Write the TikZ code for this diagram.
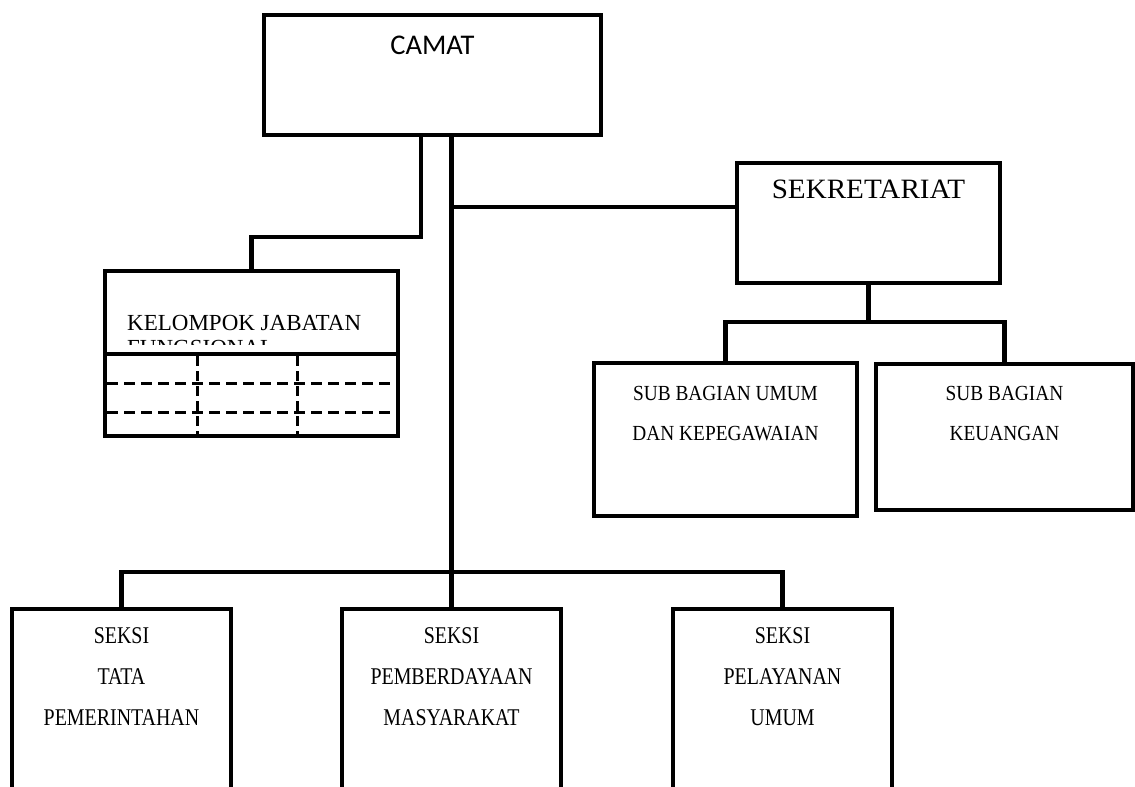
\documentclass[tikz,border=0pt]{standalone}
\usepackage{fontspec}
\setmainfont{Liberation Serif}
\newfontfamily\camatfont{Carlito}
\newfontfamily\sekrefont[FakeStretch=1.04]{Liberation Serif}
\newfontfamily\subfont[FakeStretch=0.9]{Liberation Serif}
\newfontfamily\seksifont[FakeStretch=0.83]{Liberation Serif}
\usetikzlibrary{positioning}

\begin{document}
\begin{tikzpicture}[x=1pt, y=-1pt,
  obox/.style={draw, line width=4.5pt, inner sep=0pt},
  otxt/.style={inner sep=0pt, align=center},
  link/.style={line width=4.5pt},
  gridln/.style={line width=3pt, dash pattern=on 11pt off 6pt}
]
  \useasboundingbox (0,0) rectangle (1135,787);
  \clip (0,0) rectangle (1135,787);

  % boxes
  \node[obox, minimum width=337pt, minimum height=120pt] (camat) at (432.5,75) {};
  \node[obox, minimum width=263pt, minimum height=120pt] (sekre) at (868.5,223) {};
  \node[obox, minimum width=293pt, minimum height=165pt] (kelompok) at (251.5,353.5) {};
  \node[obox, minimum width=263pt, minimum height=153pt] (umum) at (725.5,439.5) {};
  \node[obox, minimum width=257pt, minimum height=146pt] (keuangan) at (1004.5,437) {};
  \node[obox, minimum width=219pt, minimum height=200pt] (seksiA) at (121.5,709) {};
  \node[obox, minimum width=219pt, minimum height=200pt] (seksiB) at (451.5,709) {};
  \node[obox, minimum width=219pt, minimum height=200pt] (seksiC) at (782.5,709) {};

  % texts
  \node[otxt, font=\camatfont\fontsize{28.5}{32}\selectfont, below=23pt of camat.north] (camattxt) {CAMAT};
  \node[otxt, font=\sekrefont\fontsize{28}{32}\selectfont, below=19pt of sekre.north] (sekretxt) {SEKRETARIAT};
  \node[otxt, font=\subfont\fontsize{21.5}{40}\selectfont, below=25pt of umum.north] (umumtxt) {SUB BAGIAN UMUM\\DAN KEPEGAWAIAN};
  \node[otxt, font=\subfont\fontsize{21.5}{40}\selectfont, below=24pt of keuangan.north] (keutxt) {SUB BAGIAN\\KEUANGAN};
  \node[otxt, font=\seksifont\fontsize{24}{41}\selectfont, below=21pt of seksiA.north] (seksiAtxt) {SEKSI\\TATA\\PEMERINTAHAN};
  \node[otxt, font=\seksifont\fontsize{24}{41}\selectfont, below=21pt of seksiB.north] (seksiBtxt) {SEKSI\\PEMBERDAYAAN\\MASYARAKAT};
  \node[otxt, font=\seksifont\fontsize{24}{41}\selectfont, below=21pt of seksiC.north] (seksiCtxt) {SEKSI\\PELAYANAN\\UMUM};

  \begin{scope}
    \clip (105,271) rectangle (398,344);
    \node[otxt, align=left, anchor=north west, font=\fontsize{23}{25}\selectfont] (keltxt) at (127,315) {KELOMPOK JABATAN\\FUNGSIONAL};
  \end{scope}

  % kelompok grid
  \draw[link] (105,354) -- (398,354);
  \foreach \y in {383,412}
    \draw[gridln] (107,\y) -- (396,\y);
  \foreach \x in {197,297}
    \draw[gridln, dash pattern=on 10pt off 5pt] (\x,356) -- (\x,434);

  % connectors
  \coordinate (bus) at (451.5,572);
  \coordinate (sekjoin) at (451.5,207);
  \coordinate (kelbend) at (421,237);
  \coordinate (subbus) at (868.5,322);
  \draw[link] (camat.south -| bus) -- (seksiB.north);
  \draw[link] (seksiA.north) |- (bus) -| (seksiC.north);
  \draw[link] (sekjoin) -- (sekjoin -| sekre.west);
  \draw[link] (camat.south -| kelbend) -- (kelbend) -| (kelompok.north);
  \draw[link] (sekre.south) -- (subbus);
  \draw[link] (umum.north) |- (subbus) -| (keuangan.north);
\end{tikzpicture}
\end{document}
